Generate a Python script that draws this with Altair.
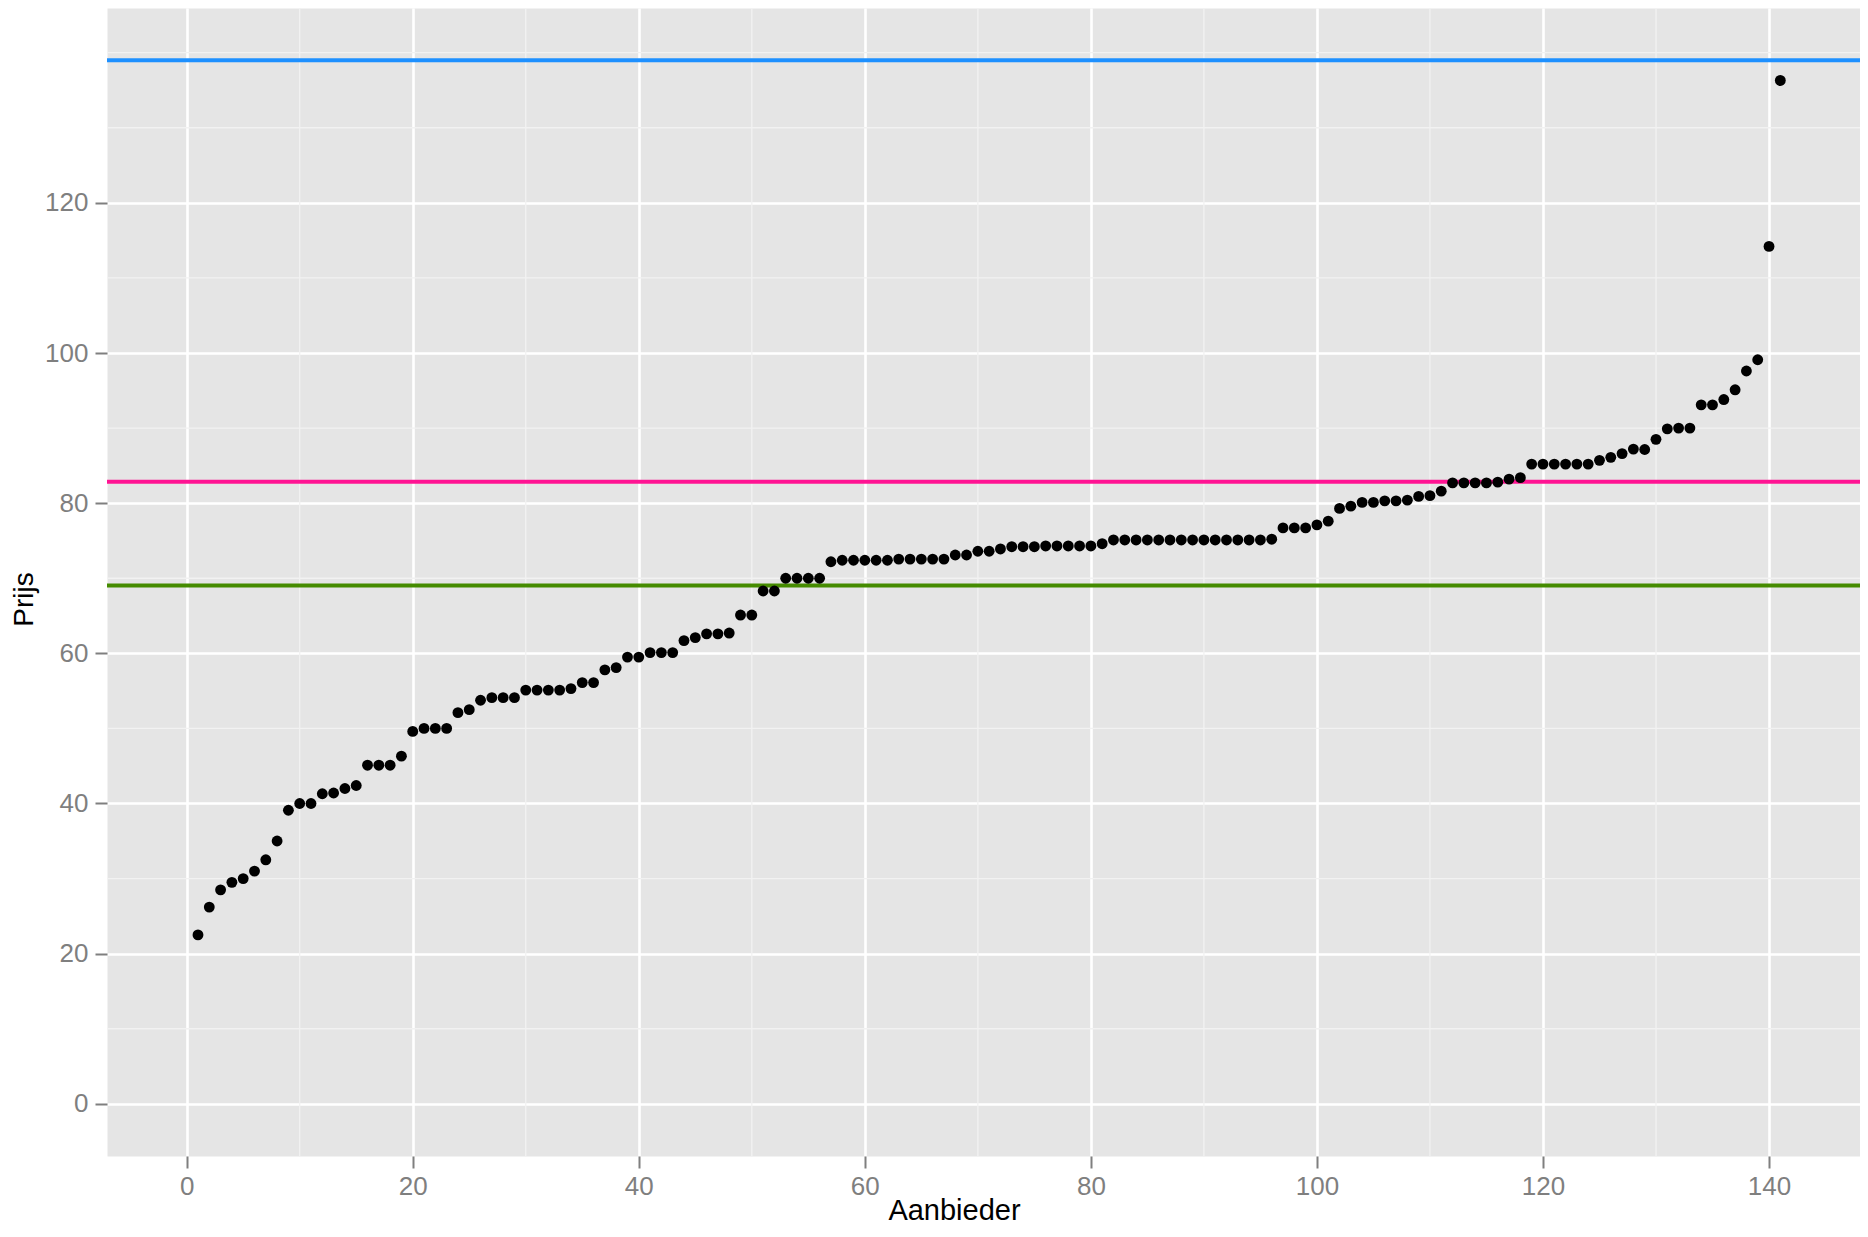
import altair as alt
import pandas as pd

# Aanbieder index (1..141)
aanbieder = list(range(1, 142))

prijs = [
    22.5, 26.2, 28.5, 29.5, 30.0, 31.0, 32.5, 35.0, 39.1, 40.0,
    40.0, 41.3, 41.4, 42.0, 42.4, 45.1, 45.1, 45.1, 46.3, 49.6,
    50.0, 50.0, 50.0, 52.1, 52.5, 53.75, 54.1, 54.1, 54.1, 55.1,
    55.1, 55.1, 55.1, 55.3, 56.1, 56.1, 57.8, 58.1, 59.5, 59.5,
    60.1, 60.1, 60.1, 61.7, 62.1, 62.6, 62.6, 62.7, 65.1, 65.1,
    68.3, 68.3, 70.0, 70.0, 70.0, 70.0, 72.2, 72.4, 72.4, 72.4,
    72.4, 72.4, 72.55, 72.55, 72.55, 72.55, 72.55, 73.1, 73.1, 73.6,
    73.6, 73.9, 74.2, 74.2, 74.2, 74.3, 74.3, 74.3, 74.3, 74.3,
    74.6, 75.1, 75.1, 75.1, 75.1, 75.1, 75.1, 75.1, 75.1, 75.1,
    75.1, 75.1, 75.1, 75.1, 75.1, 75.2, 76.7, 76.7, 76.7, 77.1,
    77.6, 79.3, 79.6, 80.1, 80.1, 80.3, 80.3, 80.4, 80.9, 81.0,
    81.6, 82.7, 82.7, 82.7, 82.7, 82.8, 83.2, 83.4, 85.2, 85.2,
    85.2, 85.2, 85.2, 85.2, 85.7, 86.1, 86.6, 87.2, 87.15, 88.5,
    89.9, 90.0, 90.0, 93.1, 93.1, 93.8, 95.1, 97.6, 99.1, 114.2,
    136.3,
]

lijn_waarden = [139.0, 82.85, 69.05]
lijn_kleuren = ["#1E90FF", "#FF1493", "#458B00"]

x_ticks = [0, 20, 40, 60, 80, 100, 120, 140]
y_ticks = [0, 20, 40, 60, 80, 100, 120]
x_minor = [10, 30, 50, 70, 90, 110, 130]
y_minor = [10, 30, 50, 70, 90, 110, 130, 140]

X_DOMAIN = [-7.05, 148.05]
Y_DOMAIN = [-6.95, 145.95]

punten = pd.DataFrame({"Aanbieder": aanbieder, "Prijs": prijs})
lijnen = pd.DataFrame({"waarde": lijn_waarden, "kleur": lijn_kleuren})
xm = pd.DataFrame({"v": x_minor})
ym = pd.DataFrame({"v": y_minor})

xscale = alt.Scale(domain=X_DOMAIN, nice=False, zero=False)
yscale = alt.Scale(domain=Y_DOMAIN, nice=False, zero=False)

FONT = "Liberation Sans"

x_axis = alt.Axis(
    values=x_ticks, title="Aanbieder", grid=True, gridColor="white", gridWidth=2.6,
    domain=False, tickSize=12, tickWidth=2, tickColor="#7F7F7F",
    labelFontSize=26, labelColor="#7F7F7F", labelFont=FONT, labelPadding=5,
    titleFontSize=29, titleColor="black", titleFont=FONT, titleFontWeight="normal",
    titleX=847, titleY=63, titleAlign="center", titleBaseline="alphabetic",
)
y_axis = alt.Axis(
    values=y_ticks, title="Prijs", grid=True, gridColor="white", gridWidth=2.6,
    domain=False, tickSize=12, tickWidth=2, tickColor="#7F7F7F",
    labelFontSize=26, labelColor="#7F7F7F", labelFont=FONT, labelPadding=7,
    titleFontSize=28, titleColor="black", titleFont=FONT, titleFontWeight="normal",
    titleAngle=270, titleX=-75, titleY=591, titleAlign="center", titleBaseline="alphabetic",
)

minor_x = alt.Chart(xm).mark_rule(color="#F2F2F2", strokeWidth=1.3).encode(
    x=alt.X("v:Q", scale=xscale, axis=x_axis)
)
minor_y = alt.Chart(ym).mark_rule(color="#F2F2F2", strokeWidth=1.3).encode(
    y=alt.Y("v:Q", scale=yscale, axis=y_axis)
)

hlines = alt.Chart(lijnen).mark_rule(strokeWidth=4).encode(
    y=alt.Y("waarde:Q", scale=yscale),
    color=alt.Color("kleur:N", scale=None),
)

pts = alt.Chart(punten).mark_circle(size=118, color="black", opacity=1).encode(
    x=alt.X("Aanbieder:Q", scale=xscale),
    y=alt.Y("Prijs:Q", scale=yscale),
)

chart = alt.layer(minor_x, minor_y, hlines, pts).properties(
    width=1753,
    height=1148,
    autosize=alt.AutoSizeParams(type="none"),
    padding={"left": 99, "top": 0, "right": 0, "bottom": 70},
).configure_view(
    fill="#E5E5E5", stroke="transparent"
)

chart.save("out.html", embed_options={"renderer": "svg", "actions": False})
